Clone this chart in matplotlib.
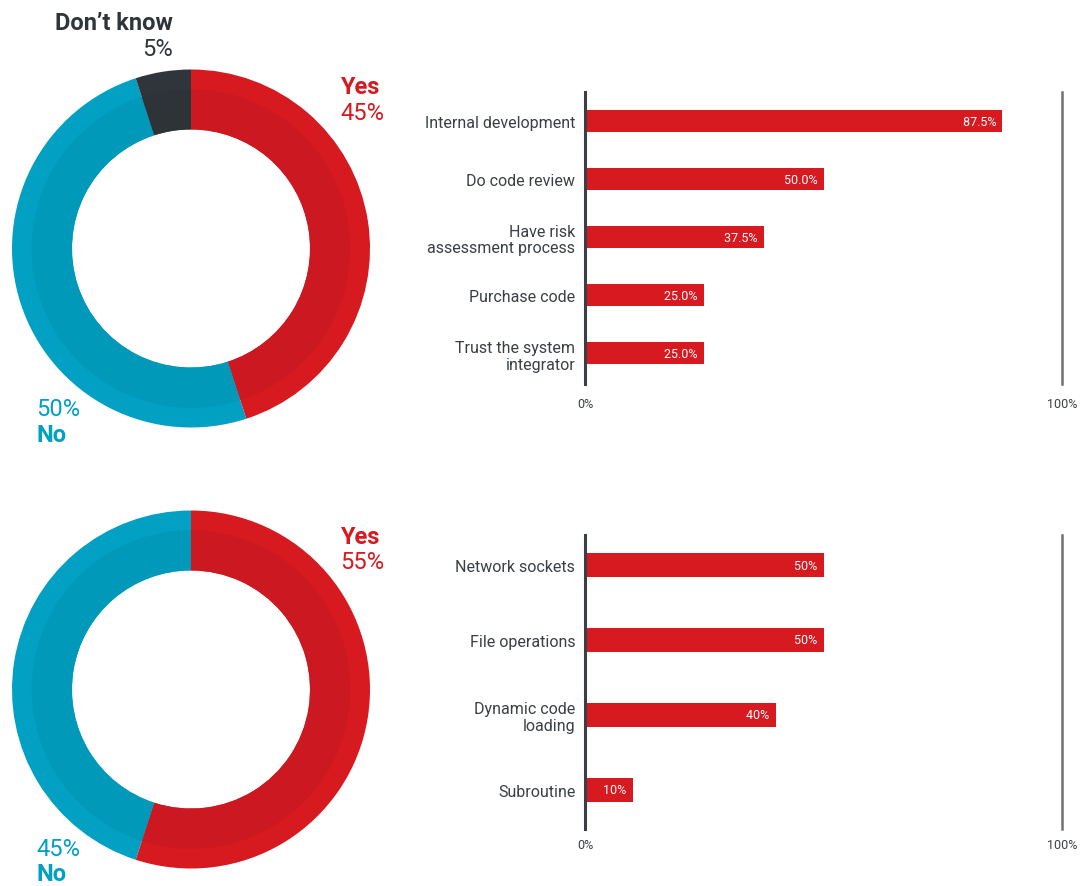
import numpy as np
import matplotlib
matplotlib.use("Agg")
import matplotlib.pyplot as plt

plt.rcParams['font.family'] = ['Roboto', 'DejaVu Sans']

# data
pie1_labels = ["Yes", "No", "Don\u2019t know"]
pie1_values = [45, 50, 5]
pie2_labels = ["Yes", "No"]
pie2_values = [55, 45]

bar1_labels = ["Internal development", "Do code review", "Have risk\nassessment process",
               "Purchase code", "Trust the system\nintegrator"]
bar1_values = [87.5, 50.0, 37.5, 25.0, 25.0]
bar2_labels = ["Network sockets", "File operations", "Dynamic code\nloading", "Subroutine"]
bar2_values = [50, 50, 40, 10]

RED = "#D71920"
RED_D = "#CC1820"
BLUE = "#02A0C2"
BLUE_D = "#0099BA"
DARK = "#30353B"
DARK_D = "#2E3338"
TXT = "#3A3F45"

W, H = 1085, 887
fig = plt.figure(figsize=(W / 100, H / 100), dpi=100)


def px_axes(x0, y0, x1, y1):
    """axes from pixel box (top-left origin)"""
    return fig.add_axes([x0 / W, 1 - y1 / H, (x1 - x0) / W, (y1 - y0) / H])


def donut(cx, cy, r, values, colors, dark_colors):
    ax = px_axes(cx - r, cy - r, cx + r, cy + r)
    ax.pie(values, radius=1, colors=colors, startangle=90, counterclock=False,
           wedgeprops=dict(width=0.335, linewidth=0))
    # slightly darker inner band
    ax.pie(values, radius=0.89, colors=dark_colors, startangle=90, counterclock=False,
           wedgeprops=dict(width=0.225, linewidth=0))
    ax.set_xlim(-1, 1)
    ax.set_ylim(-1, 1)
    ax.set_aspect('equal')
    ax.axis('off')
    return ax


def ftext(x, y, s, **kw):
    fig.text(x / W, 1 - y / H, s, **kw)


# donut 1
donut(191, 249.5, 179, pie1_values, [RED, BLUE, DARK], [RED_D, BLUE_D, DARK_D])
ftext(340, 88, pie1_labels[0], color=RED, fontsize=17, fontweight='bold', va='center', ha='left')
ftext(340, 114, f"{pie1_values[0]}%", color=RED, fontsize=17, va='center', ha='left')
ftext(36, 410, f"{pie1_values[1]}%", color=BLUE, fontsize=17, va='center', ha='left')
ftext(36, 436, pie1_labels[1], color=BLUE, fontsize=17, fontweight='bold', va='center', ha='left')
ftext(173, 24, pie1_labels[2], color=DARK, fontsize=17, fontweight='bold', va='center', ha='right')
ftext(173, 50, f"{pie1_values[2]}%", color=DARK, fontsize=17, va='center', ha='right')

# donut 2
donut(191, 690.5, 179, pie2_values, [RED, BLUE], [RED_D, BLUE_D])
ftext(340, 537, pie2_labels[0], color=RED, fontsize=17, fontweight='bold', va='center', ha='left')
ftext(340, 563, f"{pie2_values[0]}%", color=RED, fontsize=17, va='center', ha='left')
ftext(36, 850, f"{pie2_values[1]}%", color=BLUE, fontsize=17, va='center', ha='left')
ftext(36, 875, pie2_labels[1], color=BLUE, fontsize=17, fontweight='bold', va='center', ha='left')


def bars(box, labels, values, ylim, height, fmt, tick_y):
    ax = px_axes(*box)
    y = np.arange(len(values))
    ax.barh(y, values, height=height, color=RED, linewidth=0)
    ax.set_xlim(0, 100)
    ax.set_ylim(ylim[1], ylim[0])
    for sp in ['top', 'bottom']:
        ax.spines[sp].set_visible(False)
    ax.spines['left'].set_color(TXT)
    ax.spines['left'].set_linewidth(2.2)
    ax.spines['right'].set_color('#6E7175')
    ax.spines['right'].set_linewidth(1.8)
    ax.set_xticks([])
    ax.set_yticks(y)
    ax.set_yticklabels(labels, fontsize=11.5, color=TXT, linespacing=1.15)
    ax.tick_params(axis='y', length=0, pad=7)
    for yi, v in zip(y, values):
        ax.text(v, yi, fmt.format(v) + "  ", color='white', fontsize=9,
                ha='right', va='center')
    trans = ax.get_xaxis_transform()
    ax.text(0, tick_y, "0%", transform=trans, ha='center', va='center', fontsize=9, color=TXT)
    ax.text(100, tick_y, "100%", transform=trans, ha='center', va='center', fontsize=9, color=TXT)
    ax.set_facecolor('none')
    return ax


bars((585, 93, 1062, 385), bar1_labels, bar1_values, (-0.5, 4.53), 0.38, "{:.1f}%",
     -(404 - 385) / (385 - 93))
bars((585, 536, 1062, 830), bar2_labels, bar2_values, (-0.4, 3.52), 0.31, "{:.0f}%",
     -(846 - 830) / (830 - 536))

fig.savefig("out.png", dpi=100)
